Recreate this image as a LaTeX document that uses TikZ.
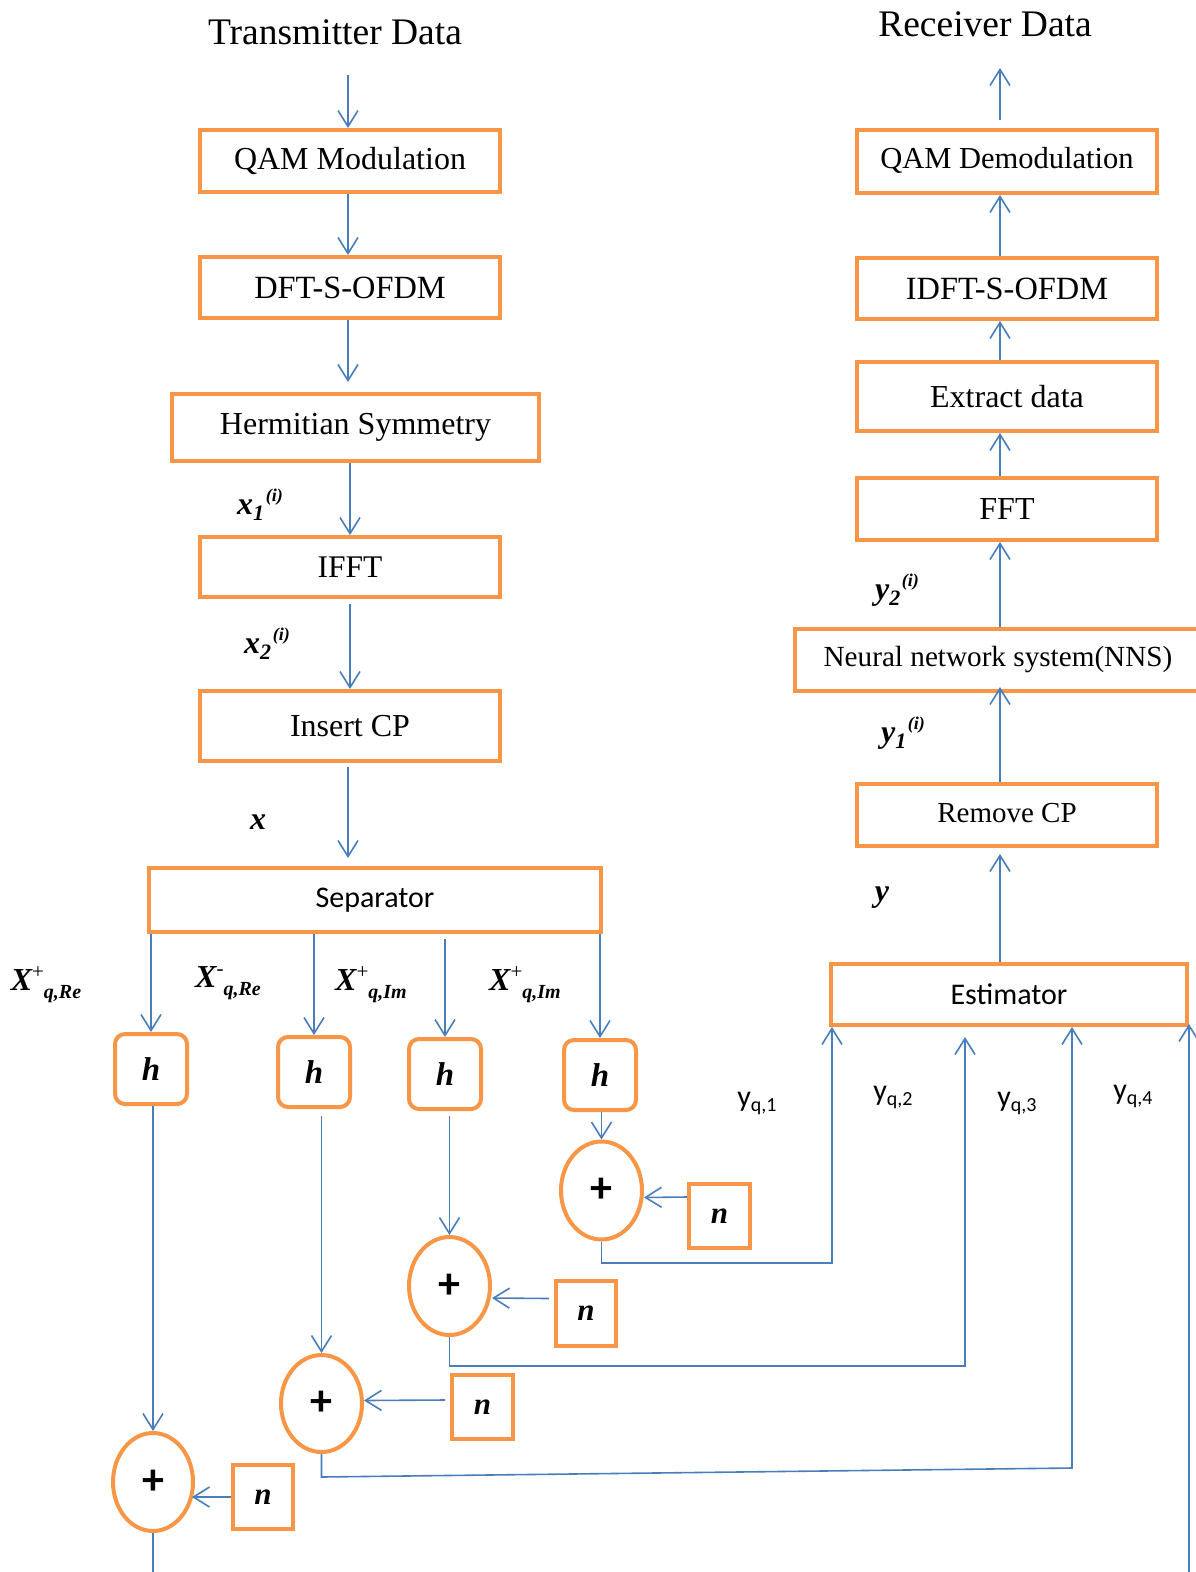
\documentclass[tikz,border=0pt]{standalone}
\usepackage{fontspec}
\setmainfont{Liberation Serif}
\setsansfont{Carlito}
\usetikzlibrary{arrows.meta,shapes.geometric,calc}
\definecolor{boxorange}{HTML}{F79646}
\definecolor{wireblue}{HTML}{4A7EBB}

% channel label X^{sup}_{sub}
\newcommand\chanlab[2]{{\fontsize{32}{32}\selectfont\bfseries\itshape X}\raisebox{12pt}{\fontsize{21}{21}\selectfont #1}\raisebox{-8pt}{\fontsize{20}{20}\selectfont\bfseries\itshape #2}}
% sequence label v_k^{(i)}
\newcommand\seqlab[2]{{\fontsize{32}{32}\selectfont\bfseries\itshape #1}\raisebox{-6pt}{\fontsize{22}{22}\selectfont\bfseries\itshape #2}\,\raisebox{13pt}{\fontsize{18}{18}\selectfont\bfseries\itshape (i)}}
% received branch label y_{q,k}
\newcommand\rxlab[1]{{\sffamily\fontsize{30}{30}\selectfont y\raisebox{-5pt}{\fontsize{20}{20}\selectfont q,#1}}}
\newcommand\fs[1]{\fontsize{#1}{#1}\selectfont}

\begin{document}
\begin{tikzpicture}[x=1pt,y=-1pt,
  blk/.style={draw=boxorange,line width=4pt,inner sep=0pt,font=\fs{32}},
  sblk/.style={blk,font=\sffamily\fs{30}},
  hbox/.style={draw=boxorange,line width=4pt,rounded corners=10pt,minimum width=72pt,minimum height=70pt,inner sep=0pt,font=\fs{33}\bfseries\itshape},
  nbox/.style={draw=boxorange,line width=4pt,minimum width=61pt,minimum height=64pt,inner sep=0pt,font=\fs{31}\bfseries\itshape},
  adder/.style={ellipse,draw=boxorange,line width=4pt,minimum width=81pt,minimum height=98pt,inner sep=0pt,font=\sffamily\fs{44}\bfseries},
  wire/.style={draw=wireblue,line width=1.6pt},
  arr/.style={wire,-{Straight Barb[length=16pt,width=20pt]}},
  lab/.style={inner sep=0pt}
]
\fill[white] (0,0) rectangle (1196,1572);
\useasboundingbox (0,0) rectangle (1196,1572);

% ---------- transmitter chain ----------
\node[lab,font=\fs{37.5}] (txt) at (335,32) {Transmitter Data};
\node[blk,minimum width=300pt,minimum height=62pt] (qam) at (350,161) {QAM Modulation};
\node[blk,minimum width=300pt,minimum height=61pt,font=\fs{32.4}] (dft) at (350,287.5) {DFT-S-OFDM};
\node[blk,minimum width=367pt,minimum height=67pt] (herm) at (355.5,427.5) {Hermitian Symmetry};
\node[blk,minimum width=300pt,minimum height=60pt,font=\fs{31.5}] (ifft) at (350,567) {IFFT};
\node[blk,minimum width=300pt,minimum height=70pt] (icp) at (350,726) {Insert CP};
\node[sblk,minimum width=452pt,minimum height=64pt] (sep) at (375,900) {Separator};

\coordinate (tin) at (348,75);
\coordinate (tmid) at (350,0);
\draw[arr] (tin) -- (qam.north -| tin);
\draw[arr] (qam.south -| tin) -- (dft.north -| tin);
\draw[arr] (dft.south -| tin) -- ($(herm.north -| tin)+(0,-10)$);
\draw[arr] (herm.south -| tmid) -- (ifft.north -| tmid);
\draw[arr] ($(ifft.south -| tmid)+(0,5)$) -- (icp.north -| tmid);
\draw[arr] ($(icp.south -| tin)+(0,4)$) -- ($(sep.north -| tin)+(0,-8)$);

\node[lab] (lx1) at (260,505) {\seqlab{x}{1}};
\node[lab] (lx2) at (267,644) {\seqlab{x}{2}};
\node[lab,font=\fs{32}\bfseries\itshape] (lx) at (258,822) {x};

% ---------- four branches ----------
\node[hbox] (h1) at (151,1069) {h};
\node[hbox] (h2) at (314,1072) {h};
\node[hbox] (h3) at (445,1074) {h};
\node[hbox] (h4) at (600,1075) {h};

\draw[arr] (sep.south -| h1.north) -- (h1.north);
\draw[arr] (sep.south -| h2.north) -- (h2.north);
\draw[arr] ($(sep.south -| h3.north)+(0,5)$) -- (h3.north);
\draw[arr] (sep.south -| h4.north) -- (h4.north);

\node[lab] (lb1) at (46,985) {\chanlab{+}{q,Re}};
\node[lab] (lb2) at (228,983) {\chanlab{-}{q,Re}};
\node[lab] (lb3) at (371,985) {\chanlab{+}{q,Im}};
\node[lab] (lb4) at (525,985) {\chanlab{+}{q,Im}};

\node[adder] (p4) at (601.5,1190.5) {+};
\node[adder] (p3) at (449.5,1286) {+};
\node[adder,minimum height=97pt] (p2) at (321.5,1403.5) {+};
\node[adder,minimum width=80pt] (p1) at (153,1482) {+};

\draw[arr] (h1.south -| p1.north) -- (p1.north);
\draw[arr] ($(h2.south -| p2.north)+(0,7)$) -- (p2.north);
\draw[arr] ($(h3.south -| p3.north)+(0,5)$) -- (p3.north);
\draw[arr] (h4.south -| p4.north) -- (p4.north);

\node[nbox] (n4) at (719.5,1216) {n};
\node[nbox,minimum width=60pt,minimum height=65pt] (n3) at (586,1313.5) {n};
\node[nbox] (n2) at (482.5,1407) {n};
\node[nbox,minimum width=60pt] (n1) at (263,1497) {n};

\draw[arr] ([yshift=19pt]n4.west) -- ([yshift=-7pt]p4.east);
\draw[arr] ([yshift=15pt,xshift=-5pt]n3.west) -- ([yshift=-12pt]p3.east);
\draw[arr] ([yshift=7pt,xshift=-5pt]n2.west) -- ([yshift=3pt]p2.east);
\draw[arr] (n1.west) -- ([yshift=-15pt,xshift=-3pt]p1.east);

% ---------- branch outputs into the estimator ----------
\node[sblk,minimum width=356pt,minimum height=61pt] (est) at (1009,994.5) {Estimator};

\coordinate (q4) at (832,1263);
\coordinate (q3) at (965,1366);
\coordinate (q2) at (1072,1468);
\coordinate (b1) at (153,1572);
\coordinate (b2) at (1189,1572);
\draw[arr] (p4.south) |- (q4) -- (q4 |- est.south);
\draw[arr] (p3.south) |- (q3) -- ($(q3 |- est.south)+(0,10)$);
\draw[arr] (p2.south) -- ++(0,23) -- (q2) -- (q2 |- est.south);
\draw[wire] (p1.south) -- (b1);
\draw[arr] (b2) -- ($(b2 |- est.south)+(0,-3)$);

\node[lab] (ly1) at (757,1103) {\rxlab{1}};
\node[lab] (ly2) at (893,1097) {\rxlab{2}};
\node[lab] (ly3) at (1017,1103) {\rxlab{3}};
\node[lab] (ly4) at (1133,1096) {\rxlab{4}};

% ---------- receiver chain ----------
\node[lab,font=\fs{37.5}] (rxt) at (985,24) {Receiver Data};
\node[blk,minimum width=300pt,minimum height=63pt,font=\fs{30.5},text depth=4pt,text height=18pt] (rqam) at (1007,161.5) {QAM Demodulation};
\node[blk,minimum width=300pt,minimum height=61pt,font=\fs{32.4}] (idft) at (1007,288.5) {IDFT-S-OFDM};
\node[blk,minimum width=300pt,minimum height=69pt] (ext) at (1007,396.5) {Extract data};
\node[blk,minimum width=300pt,minimum height=62pt] (fft) at (1007,509) {FFT};
\node[blk,minimum width=406pt,minimum height=62pt,font=\fs{29.2}] (nns) at (998,660) {Neural network system(NNS)};
\node[blk,minimum width=300pt,minimum height=62pt,font=\fs{29},text depth=4pt,text height=18pt] (rcp) at (1007,815) {Remove CP};

\coordinate (rx) at (1000,0);
\coordinate (rtop) at (1000,68);
\draw[arr] (est.north -| rx) -- ($(rcp.south -| rx)+(0,6)$);
\draw[arr] (rcp.north -| rx) -- ($(nns.south -| rx)+(0,-6)$);
\draw[arr] (nns.north -| rx) -- (fft.south -| rx);
\draw[arr] (fft.north -| rx) -- (ext.south -| rx);
\draw[arr] (ext.north -| rx) -- (idft.south -| rx);
\draw[arr] (idft.north -| rx) -- (rqam.south -| rx);
\draw[arr] ($(rqam.north -| rx)+(0,-8)$) -- (rtop);

\node[lab] (ly2i) at (897,590) {\seqlab{y}{2}};
\node[lab] (ly1i) at (903,733) {\seqlab{y}{1}};
\node[lab,font=\fs{32}\bfseries\itshape] (lyy) at (882,898) {y};
\end{tikzpicture}
\end{document}
